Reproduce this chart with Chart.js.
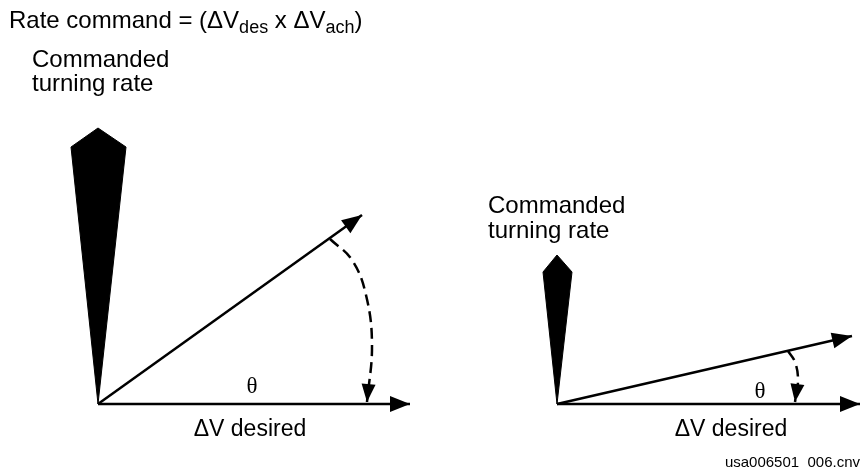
<!DOCTYPE html>
<html>
<head>
<meta charset="utf-8">
<script src="https://cdn.jsdelivr.net/npm/chart.js@4.4.0/dist/chart.umd.min.js"></script>
<style>
  body { margin: 0; background: #fff; }
  #wrap { width: 864px; height: 472px; }
</style>
</head>
<body>
<div id="wrap"><canvas id="diagram" width="864" height="472"></canvas></div>
<script>
// geometry in sheet units (x right, y down)
const leftOrigin = [98, 404];
const leftDesired = [410, 404];
const leftAchieved = [362, 215];
const leftRate = [[98, 128], [126, 147], [98, 404], [71, 147]];
const leftSweep = [[330, 239], [352, 260], [366, 295], [372, 345], [367, 402]];

const rightOrigin = [557, 404];
const rightDesired = [860, 404];
const rightAchieved = [852, 336];
const rightRate = [[557, 255], [572, 272], [557, 404], [543, 272]];
const rightSweep = [[788, 351], [795, 362], [798, 380], [795, 402]];

// texts
const titleParts = [["Rate command = (\u0394V", 0], ["des", 1], [" x \u0394V", 0], ["ach", 1], [")", 0]];
const rateLabel = ["Commanded", "turning rate"];
const desiredLabel = "\u0394V desired";
const angleLabel = "\u03b8";
const fileLabel = "usa006501  006.cnv";

const pts = (arr) => arr.map(p => ({ x: p[0], y: p[1] }));

function vector(from, to) {
  return {
    data: pts([from, to]),
    showLine: true,
    borderColor: "#000",
    borderWidth: 2.5,
    pointRadius: 0,
    arrow: [20, 8],
  };
}

function spear(arr) {
  return {
    data: pts(arr.concat([arr[0]])),
    showLine: true,
    fill: "shape",
    backgroundColor: "#000",
    borderColor: "#000",
    borderWidth: 1,
    pointRadius: 0,
  };
}

function sweep(arr) {
  return {
    data: pts(arr),
    showLine: true,
    tension: 0.4,
    borderColor: "#000",
    borderWidth: 2.5,
    borderDash: [11, 6],
    pointRadius: 0,
    arrow: [18, 7],
  };
}

const datasets = [
  spear(leftRate),
  vector(leftOrigin, leftDesired),
  vector(leftOrigin, leftAchieved),
  sweep(leftSweep),
  spear(rightRate),
  vector(rightOrigin, rightDesired),
  vector(rightOrigin, rightAchieved),
  sweep(rightSweep),
];

// filled arrow heads at the last point of every dataset flagged "arrow"
const arrowHeads = {
  id: "arrowHeads",
  afterDatasetsDraw(chart) {
    const ctx = chart.ctx;
    chart.data.datasets.forEach((ds, i) => {
      if (!ds.arrow) return;
      const el = chart.getDatasetMeta(i).data;
      const a = el[el.length - 2], b = el[el.length - 1];
      const ang = Math.atan2(b.y - a.y, b.x - a.x);
      const [len, half] = ds.arrow;
      ctx.save();
      ctx.translate(b.x, b.y);
      ctx.rotate(ang);
      ctx.beginPath();
      ctx.moveTo(0, 0);
      ctx.lineTo(-len, -half);
      ctx.lineTo(-len, half);
      ctx.closePath();
      ctx.fillStyle = "#000";
      ctx.fill();
      ctx.restore();
    });
  },
};

const textLabels = {
  id: "textLabels",
  afterDraw(chart) {
    const ctx = chart.ctx;
    const x = chart.scales.x, y = chart.scales.y;
    const px = (v) => x.getPixelForValue(v);
    const py = (v) => y.getPixelForValue(v);
    const sans = "\"Liberation Sans\", Arial, sans-serif";
    ctx.save();
    ctx.fillStyle = "#000";
    ctx.textBaseline = "alphabetic";

    // title with subscripts
    let cx = px(9);
    titleParts.forEach(([t, sub]) => {
      ctx.font = (sub ? "18px " : "24px ") + sans;
      ctx.fillText(t, cx, py(sub ? 33 : 28));
      cx += ctx.measureText(t).width;
    });

    ctx.font = "24px " + sans;
    ctx.textAlign = "left";
    ctx.fillText(rateLabel[0], px(32), py(67));
    ctx.fillText(rateLabel[1], px(32), py(91));
    ctx.fillText(rateLabel[0], px(488), py(213));
    ctx.fillText(rateLabel[1], px(488), py(238));

    ctx.font = "23px " + sans;
    ctx.textAlign = "center";
    ctx.fillText(desiredLabel, px(250), py(436));
    ctx.fillText(desiredLabel, px(731), py(436));

    ctx.font = "23px \"Liberation Serif\", \"Times New Roman\", serif";
    ctx.fillText(angleLabel, px(252), py(393));
    ctx.fillText(angleLabel, px(760), py(398));

    ctx.font = "15px " + sans;
    ctx.textAlign = "right";
    ctx.fillText(fileLabel, px(860), py(467));
    ctx.restore();
  },
};

new Chart(document.getElementById("diagram"), {
  type: "scatter",
  data: { datasets },
  options: {
    responsive: false,
    animation: false,
    events: [],
    layout: { padding: 0 },
    plugins: { legend: { display: false }, tooltip: { enabled: false } },
    scales: {
      x: { type: "linear", min: 0, max: 864, display: false },
      y: { type: "linear", min: 0, max: 472, reverse: true, display: false },
    },
  },
  plugins: [arrowHeads, textLabels],
});
</script>
</body>
</html>
